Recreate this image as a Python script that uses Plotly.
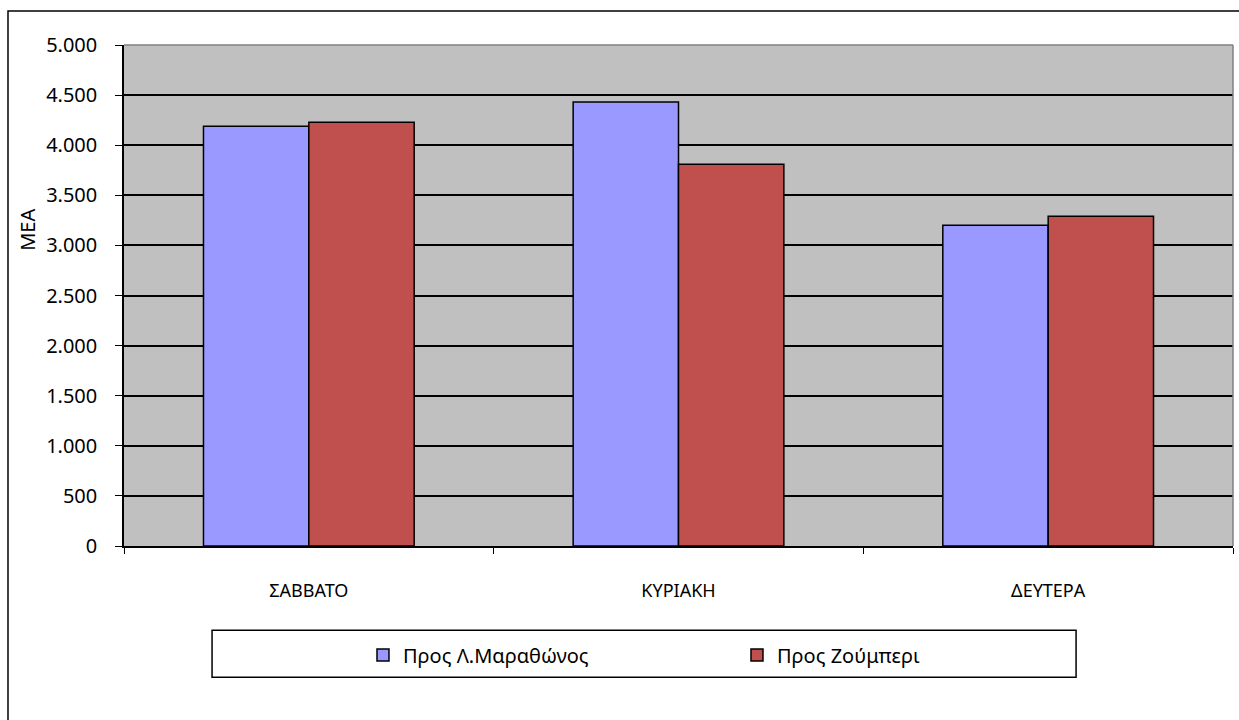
import plotly.graph_objects as go

# Traffic volumes per day and direction
days = ["ΣΑΒΒΑΤΟ", "ΚΥΡΙΑΚΗ", "ΔΕΥΤΕΡΑ"]
to_marathonos = [4190, 4430, 3200]
to_zoumperi = [4230, 3810, 3290]
y_ticks = [0, 500, 1000, 1500, 2000, 2500, 3000, 3500, 4000, 4500, 5000]

fig = go.Figure()
fig.add_trace(go.Bar(
    x=days, y=to_marathonos, name="Προς Λ.Μαραθώνος",
    marker=dict(color="#9999FF", line=dict(color="black", width=1.5)),
))
fig.add_trace(go.Bar(
    x=days, y=to_zoumperi, name="Προς Ζούμπερι",
    marker=dict(color="#C0504D", line=dict(color="black", width=1.5)),
))

# outer chart frame (runs off the right and bottom edges)
fig.add_shape(type="rect", xref="paper", yref="paper",
              x0=-0.1046, x1=1.05, y0=-0.6, y1=1.068,
              line=dict(color="black", width=1.5), layer="below")
# legend frame
fig.add_shape(type="rect", xref="paper", yref="paper",
              x0=0.0794, x1=0.8585, y0=-0.262, y1=-0.168,
              line=dict(color="black", width=1.5), fillcolor="white")

# light grey border on the top and right of the plot area
fig.add_shape(type="line", xref="paper", yref="paper", x0=0, x1=1, y0=1, y1=1,
              line=dict(color="#808080", width=1.5))
fig.add_shape(type="line", xref="paper", yref="paper", x0=1, x1=1, y0=0, y1=1,
              line=dict(color="#808080", width=1.5))

# y-axis title
fig.add_annotation(text="MEA", xref="paper", yref="paper",
                   x=(28 - 124) / 1109, y=0.631, xanchor="center", yanchor="middle",
                   textangle=-90, showarrow=False, font=dict(size=20))

fig.update_layout(
    width=1239, height=720,
    margin=dict(l=124, r=6, t=45, b=174),
    paper_bgcolor="white",
    plot_bgcolor="#C0C0C0",
    barmode="group",
    bargap=0.43,
    bargroupgap=0,
    separators=",.",
    font=dict(family="Noto Sans", size=18, color="black"),
    showlegend=True,
    legend=dict(
        orientation="h", x=0.2155, xanchor="left", y=-0.2176, yanchor="middle",
        entrywidth=329, bgcolor="rgba(0,0,0,0)", borderwidth=0,
        font=dict(size=20), itemwidth=30,
    ),
    xaxis=dict(
        showline=True, linecolor="black", linewidth=1.5,
        ticks="outside", tickson="boundaries", ticklen=6, tickcolor="black",
        ticklabelstandoff=28, tickfont=dict(size=18),
        showgrid=False,
    ),
    yaxis=dict(
        range=[0, 5000], tickvals=y_ticks, tickformat=",d",
        showline=True, linecolor="black", linewidth=1.5,
        ticks="outside", ticklen=7, tickcolor="black",
        ticklabelstandoff=14,
        showgrid=True, gridcolor="black", gridwidth=1.5,
        zeroline=False, tickfont=dict(size=20),
    ),
)

fig.write_html("out.html")
